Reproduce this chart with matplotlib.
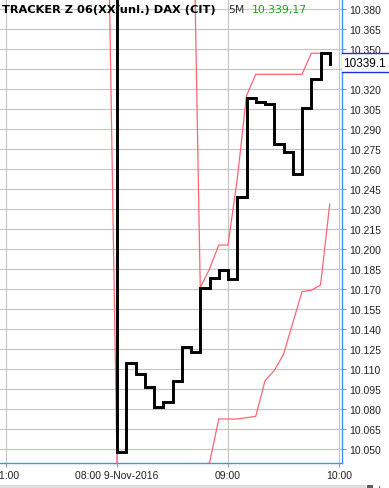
import matplotlib
matplotlib.use("Agg")
import matplotlib.pyplot as plt
from matplotlib.patches import Rectangle
from matplotlib.lines import Line2D
import numpy as np

# ---- data (5-minute bars; first entry is previous session's last bar) ----
bar_times = ["21:55",
             "08:00", "08:05", "08:10", "08:15", "08:20", "08:25", "08:30", "08:35",
             "08:40", "08:45", "08:50", "08:55", "09:00", "09:05", "09:10", "09:15",
             "09:20", "09:25", "09:30", "09:35", "09:40", "09:45", "09:50", "09:55"]
close = [10.480,
         10.048, 10.1145, 10.106, 10.0967, 10.0817, 10.0855, 10.101, 10.1268,
         10.1225, 10.171, 10.178, 10.1845, 10.1775, 10.2388, 10.313, 10.3105,
         10.3085, 10.2788, 10.273, 10.2565, 10.306, 10.3275, 10.3468, 10.3391]
upper = [10.560,
         10.560, 10.560, 10.560, 10.560, 10.560, 10.560, 10.560, 10.560,
         10.560, 10.171, 10.185, 10.203, 10.203, 10.2525, 10.315, 10.331,
         10.331, 10.331, 10.331, 10.331, 10.331, 10.3468, 10.3468, 10.3468]
lower = [10.470,
         10.038, 10.038, 10.038, 10.038, 10.038, 10.038, 10.038, 10.038,
         10.038, 10.038, 10.0395, 10.0725, 10.0725, 10.0725, 10.0735, 10.0745,
         10.1012, 10.1088, 10.121, 10.1445, 10.168, 10.169, 10.173, 10.2337]

x_tick_pos = [-12, 0, 12, 24]          # bar index of hour marks
x_tick_labels = ["21:00", "08:00 9-Nov-2016", "09:00", "10:00"]
y_ticks = [10.050, 10.065, 10.080, 10.095, 10.110, 10.125, 10.140, 10.155, 10.170,
           10.185, 10.200, 10.215, 10.230, 10.245, 10.260, 10.275, 10.290, 10.305,
           10.320, 10.335, 10.350, 10.365, 10.380]
y_hidden = [10.335]                    # covered by the last-price box
title_main = "TRACKER Z 06(XX/unl.) DAX (CIT)"
title_period = "5M"
title_price = "10.339,17"
last_label = "10339.1"

# ---- figure ----
W, H = 389, 489
fig = plt.figure(figsize=(W / 100, H / 100), dpi=100)
fig.patch.set_facecolor("white")

ax_left, ax_right, ax_top, ax_bottom = 0, 341.5, 0, 464
ax = fig.add_axes([ax_left / W, (H - ax_bottom) / H,
                   (ax_right - ax_left) / W, (ax_bottom - ax_top) / H])

xs = np.arange(len(close)) - 1  # 21:55 -> -1, 08:00 -> 0

ax.plot(xs, upper, color="#ff5c6c", lw=0.9, zorder=3, alpha=0.95)
ax.plot(xs, lower, color="#ff5c6c", lw=0.9, zorder=3, alpha=0.95)
ax.plot(xs, close, color="black", lw=2.1, drawstyle="steps-post", zorder=4,
        solid_joinstyle="miter")

ax.set_xlim(-12.65, 24.27)
ax.set_ylim(10.0395, 10.3875)

ax.set_xticks(x_tick_pos)
ax.set_xticklabels(x_tick_labels)
ax.set_yticks(y_ticks)
ax.set_yticklabels(["" if any(abs(v - h) < 1e-9 for h in y_hidden) else f"{v:.3f}"
                    for v in y_ticks])

ax.yaxis.tick_right()
ax.grid(True, color="#c4c4c4", lw=0.8, zorder=0)
ax.set_axisbelow(True)

for s in ["left", "top"]:
    ax.spines[s].set_visible(False)
for s in ["right", "bottom"]:
    ax.spines[s].set_color("#3d94f6")
    ax.spines[s].set_linewidth(1.0)
    ax.spines[s].set_zorder(6)

ax.tick_params(axis="y", which="both", direction="out", length=3, width=0.8,
               color="#999999", pad=2.5, labelsize=7.5, labelcolor="#222222",
               right=True, left=False)
ax.tick_params(axis="x", which="both", direction="out", length=3, width=0.8,
               color="#999999", pad=2.0, labelsize=7.5, labelcolor="#222222")
for lab in ax.get_xticklabels() + ax.get_yticklabels():
    lab.set_family("Liberation Sans")

# ---- header text ----
def fy(ypix):
    return (H - ypix) / H

fig.text(2 / W, fy(10), title_main, fontsize=8.2, fontweight="bold",
         family="DejaVu Sans", color="black", va="center", ha="left", zorder=2)
fig.text(228 / W, fy(10), title_period, fontsize=7.8, family="DejaVu Sans",
         color="#333333", va="center", ha="left")
fig.text(252 / W, fy(10), title_price, fontsize=7.8, family="DejaVu Sans",
         color="#1aa31a", va="center", ha="left")

# ---- last price box ----
bx0, bx1, by0, by1 = 341.5, 389, 54.3, 73.3
fig.add_artist(Rectangle((bx0 / W, fy(by1)), (bx1 - bx0) / W, (by1 - by0) / H,
                         transform=fig.transFigure, facecolor="white",
                         edgecolor="none", zorder=10))
for yy in (by0, by1):
    fig.add_artist(Line2D([bx0 / W, bx1 / W], [fy(yy), fy(yy)],
                          transform=fig.transFigure, color="#1a33d6", lw=1.0,
                          zorder=11))
fig.text(343 / W, fy((by0 + by1) / 2), last_label, fontsize=8.5,
         family="Liberation Sans", color="black", va="center", ha="left",
         zorder=12)

# ---- scrollbar strip ----
fig.add_artist(Rectangle((0, 0), 366 / W, 3 / H, transform=fig.transFigure,
                         facecolor="#dedede", edgecolor="none", zorder=10))
fig.add_artist(Rectangle((367 / W, 0), 6 / W, 3 / H, transform=fig.transFigure,
                         facecolor="#606060", edgecolor="none", zorder=10))
fig.add_artist(Rectangle((379 / W, 0), 1 / W, 2 / H, transform=fig.transFigure,
                         facecolor="#606060", edgecolor="none", zorder=10))

fig.savefig("out.png", dpi=100, facecolor="white")
